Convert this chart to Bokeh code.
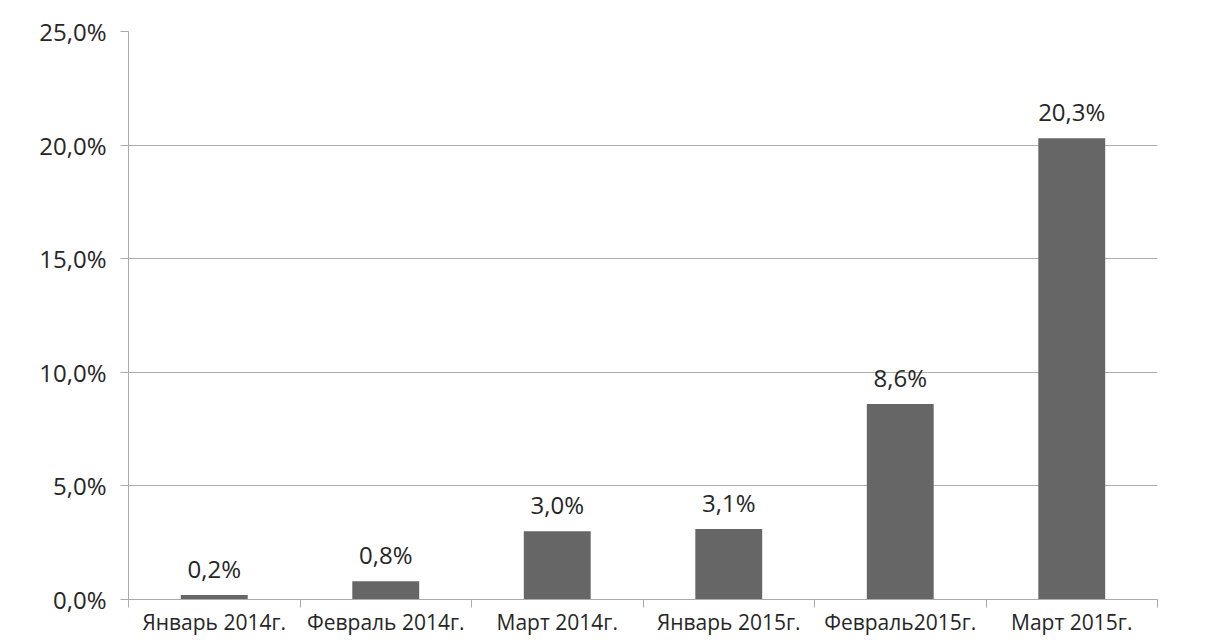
from bokeh.plotting import figure
from bokeh.models import (Range1d, LinearAxis, FixedTicker,
                          CustomJSTickFormatter, ColumnDataSource, Grid)
from bokeh.core.properties import value
from bokeh.embed import file_html
from bokeh.resources import INLINE

categories = ["Январь 2014г.", "Февраль 2014г.", "Март 2014г.",
              "Январь 2015г.", "Февраль2015г.", "Март 2015г."]
values = [0.2, 0.8, 3.0, 3.1, 8.6, 20.3]
labels = ["0,2%", "0,8%", "3,0%", "3,1%", "8,6%", "20,3%"]
y_ticks = [0, 5, 10, 15, 20, 25]

FONT = "Open Sans"
GRID = "#ababab"
TXT = "#262626"

n = len(categories)
pos = [i + 0.5 for i in range(n)]
src = ColumnDataSource(dict(x=pos, val=values, lab=labels))

p = figure(width=1205, height=642, output_backend="svg", toolbar_location=None,
           x_range=Range1d(0, n), y_range=Range1d(0, 25),
           x_axis_type=None, y_axis_type=None,
           min_border_left=128, min_border_right=48, min_border_top=31,
           min_border_bottom=43)
p.outline_line_color = None
p.background_fill_color = "white"
p.border_fill_color = "white"

# y axis
yax = LinearAxis(ticker=FixedTicker(ticks=y_ticks),
                 formatter=CustomJSTickFormatter(code="return tick.toFixed(1).replace('.', ',') + '%';"))
yax.axis_line_color = GRID
yax.major_tick_line_color = GRID
yax.major_tick_in = 0
yax.major_tick_out = 8
yax.minor_tick_line_color = None
yax.major_label_standoff = 14
yax.major_label_text_font = FONT
yax.major_label_text_font_size = "24px"
yax.major_label_text_color = TXT
p.add_layout(yax, "left")

g = Grid(dimension=1, ticker=FixedTicker(ticks=y_ticks))
g.grid_line_color = GRID
p.add_layout(g)

# x axis: ticks at category boundaries
tax = LinearAxis(ticker=FixedTicker(ticks=list(range(n + 1))),
                 formatter=CustomJSTickFormatter(code="return '';"))
tax.major_label_standoff = 0
tax.major_label_text_font_size = "1px"
tax.axis_line_color = GRID
tax.major_tick_line_color = GRID
tax.major_tick_in = 0
tax.major_tick_out = 8
tax.minor_tick_line_color = None
p.add_layout(tax, "below")

# x axis: category labels at centres
cax = LinearAxis(ticker=FixedTicker(ticks=pos),
                 formatter=CustomJSTickFormatter(args=dict(names=categories),
                                                 code="return names[Math.floor(tick)];"))
cax.axis_line_color = None
cax.major_tick_line_color = None
cax.minor_tick_line_color = None
cax.major_tick_in = 0
cax.major_tick_out = 0
cax.major_label_standoff = 0
cax.major_label_text_font = FONT
cax.major_label_text_font_size = "21px"
cax.major_label_text_color = TXT
p.add_layout(cax, "below")

p.vbar(x="x", top="val", width=0.39, source=src, fill_color="#666666", line_color=None)
p.text(x="x", y="val", text="lab", source=src, y_offset=-10,
       text_align="center", text_baseline="bottom",
       text_font=value(FONT), text_font_size="24px", text_color=TXT)

open("out.html", "w").write(file_html(p, INLINE))
